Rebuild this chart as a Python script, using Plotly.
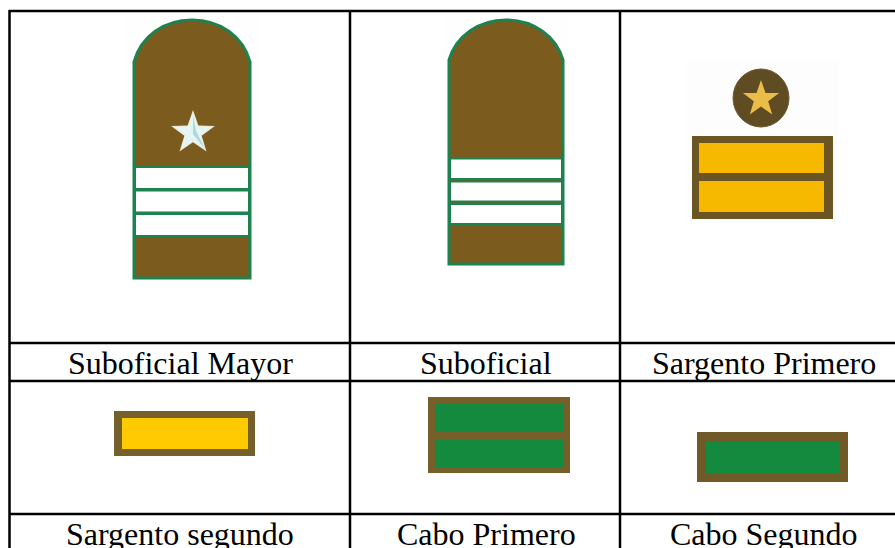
import math
import plotly.graph_objects as go

# Table contents
top_labels = ["Suboficial Mayor", "Suboficial", "Sargento Primero"]
bottom_labels = ["Sargento segundo", "Cabo Primero", "Cabo Segundo"]

BROWN = "#7b5c1e"
BROWN2 = "#75602c"
GREEN = "#1c8250"
GOLD = "#f7b900"
YELLOW = "#ffcb00"
FIELD = "#138a3e"

shapes = []


def rect(x0, y0, x1, y1, fill, line=None, w=0):
    shapes.append(dict(type="rect", xref="x", yref="y", x0=x0, y0=y0, x1=x1, y1=y1,
                       fillcolor=fill, line=dict(color=line or fill, width=w), layer="above"))


def path(d, fill, line=None, w=0):
    shapes.append(dict(type="path", xref="x", yref="y", path=d, fillcolor=fill,
                       line=dict(color=line or fill, width=w), layer="above"))


def star_d(cx, cy, R, r=None):
    r = r or R * 0.4
    pts = []
    for i in range(10):
        a = -math.pi / 2 + i * math.pi / 5
        q = R if i % 2 == 0 else r
        pts.append((cx + q * math.cos(a), cy + q * math.sin(a)))
    return "M " + " L ".join(f"{x:.1f} {y:.1f}" for x, y in pts) + " Z"


def strap(x0, x1, top, shoulder, bottom, bands):
    c = (x0 + x1) / 2
    k = (x1 - x0) * 0.24
    d = (f"M {x0} {bottom} L {x0} {shoulder} "
         f"C {x0+7} {top+16} {c-k} {top} {c} {top} "
         f"C {c+k} {top} {x1-7} {top+16} {x1} {shoulder} L {x1} {bottom} Z")
    path(d, BROWN, GREEN, 3)
    for y0, y1 in bands:
        rect(x0 + 1, y0, x1 - 1, y1, "#ffffff", GREEN, 2)


# faint halos behind the scanned insignia
rect(126, 16, 258, 284, "#fdfefd")
rect(443, 18, 569, 270, "#fdfefd")
rect(686, 61, 838, 222, "#fefdfe")

# Insignia 1
strap(134, 250, 20, 62, 278, [(167, 189), (190.5, 212.5), (214, 236)])
path(star_d(193, 133, 23), "#efe6cf")
path(star_d(193, 133, 20.5), "#e4f5f3")
path("M 193 115 L 196 131 L 205 149 L 193 134 Z", "#a9d8de")

# Insignia 2
strap(449, 563, 20, 60, 264, [(158.5, 179), (181.5, 201.5), (204, 224)])

# Insignia 3
shapes.append(dict(type="circle", xref="x", yref="y", x0=733, y0=69, x1=789, y1=127,
                   fillcolor="#5f4c22", line=dict(color="#6d5a30", width=1), layer="above"))
path(star_d(761, 99, 19), "#e9bd48")
rect(692, 136, 833, 219, "#6b5522")
rect(699, 143, 824, 173, GOLD)
rect(699, 181, 824, 212, GOLD)

# Insignia 4
rect(114, 411, 255, 456, BROWN2)
rect(122, 418, 248, 449, YELLOW)

# Insignia 5
rect(428, 397, 570, 473, BROWN2)
rect(435, 403, 564, 432, FIELD)
rect(435, 439, 564, 467, FIELD)

# Insignia 6
rect(697, 432, 848, 482, "#715a28")
rect(706, 442, 840, 474, FIELD)

# Table rules
for x in (9.5, 350, 620):
    shapes.append(dict(type="line", xref="x", yref="y", x0=x, x1=x, y0=10, y1=548,
                       line=dict(color="#000000", width=2.5), layer="above"))
for y in (11, 343, 381, 514):
    shapes.append(dict(type="line", xref="x", yref="y", x0=9, x1=895, y0=y, y1=y,
                       line=dict(color="#000000", width=2.5), layer="above"))

centers = [180, 486, 764]
annotations = []
for labels, yc in ((top_labels, 363), (bottom_labels, 534)):
    for lab, xc in zip(labels, centers):
        annotations.append(dict(x=xc, y=yc, xref="x", yref="y", text=lab, showarrow=False,
                                font=dict(family="Liberation Serif", size=32, color="#000000"),
                                xanchor="center", yanchor="middle"))

fig = go.Figure()
fig.update_layout(
    width=895, height=548, margin=dict(l=0, r=0, t=0, b=0),
    paper_bgcolor="#ffffff", plot_bgcolor="#ffffff", showlegend=False,
    xaxis=dict(range=[0, 895], visible=False, fixedrange=True),
    yaxis=dict(range=[548, 0], visible=False, fixedrange=True),
    shapes=shapes, annotations=annotations,
)
fig.write_html("out.html", config=dict(displayModeBar=False),
               post_script="document.body.style.margin='0';document.body.style.overflow='hidden';")
